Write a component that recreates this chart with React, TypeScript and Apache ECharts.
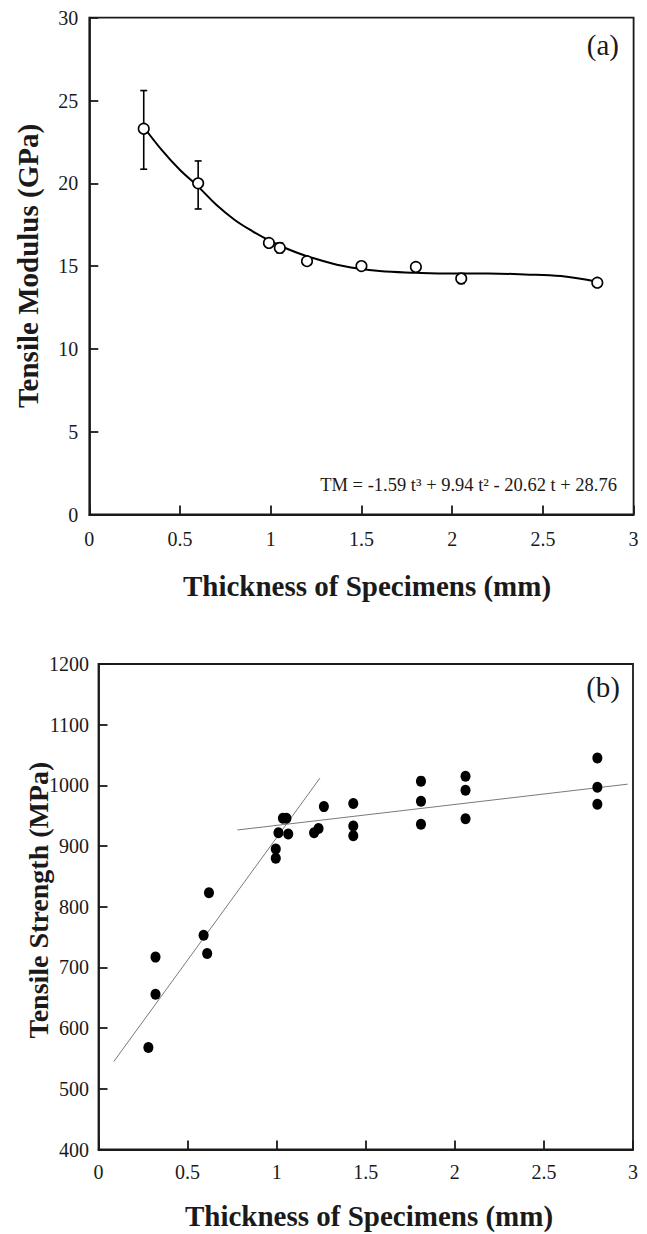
import React, { useEffect, useRef } from "react";
import * as echarts from "echarts";

const FONT = "'Liberation Serif', 'Times New Roman', Times, serif";
const INK = "#1a1a1a";

// ---------- Chart (a): Tensile Modulus ----------
const thicknessA = [0.3, 0.6, 0.99, 1.05, 1.2, 1.5, 1.8, 2.05, 2.8];
const modulusA = [23.3, 20.0, 16.4, 16.1, 15.3, 15.0, 14.95, 14.25, 14.0];
const errThicknessA = [0.3, 0.6, 1.05, 2.05];
const errLowA = [20.85, 18.45, 15.8, 13.95];
const errHighA = [25.6, 21.35, 16.4, 14.55];
const fitThicknessA = [0.3, 0.4, 0.5, 0.6, 0.7, 0.8, 0.9, 1.0, 1.1, 1.2, 1.4, 1.6, 1.8, 2.0, 2.2, 2.4, 2.6, 2.8];
const fitModulusA = [23.4, 22.0, 20.8, 19.8, 18.7, 17.8, 17.1, 16.5, 16.0, 15.6, 15.0, 14.7, 14.6, 14.55, 14.55, 14.5, 14.4, 14.05];
const equationA = "TM = -1.59 t\u00b3 + 9.94 t\u00b2 - 20.62 t + 28.76";

// ---------- Chart (b): Tensile Strength ----------
const thicknessB = [0.28, 0.32, 0.32, 0.59, 0.61, 0.62, 0.995, 0.995, 1.01, 1.035, 1.055, 1.065, 1.21, 1.235, 1.265, 1.43, 1.43, 1.43, 1.81, 1.81, 1.81, 2.06, 2.06, 2.06, 2.8, 2.8, 2.8];
const strengthB = [568, 717, 656, 753, 723, 823, 895, 880, 922, 946, 946, 920, 922, 929, 965, 970, 933, 917, 1007, 974, 936, 1015, 992, 945, 1045, 997, 969];
const steepLineT = [0.086, 1.243];
const steepLineS = [545, 1012];
const flatLineT = [0.78, 2.97];
const flatLineS = [926.5, 1002];

const xTitle = "Thickness of Specimens (mm)";

export default function App() {
  const ref = useRef<HTMLDivElement>(null);
  useEffect(() => {
    if (!ref.current) return;
    const chart = echarts.init(ref.current, undefined, { renderer: "svg" });

    const plain = (v: number) => String(v);
    const axisCommon = {
      axisLine: { show: true, lineStyle: { color: INK, width: 1.8 } },
      axisTick: { show: true, inside: true, length: 9, lineStyle: { color: INK, width: 1.8 } },
      splitLine: { show: false },
      axisLabel: { color: INK, fontFamily: FONT, fontSize: 20, formatter: plain },
    };

    const option: any = {
      animation: false,
      backgroundColor: "#ffffff",
      grid: [
        { left: 89.3, top: 17.7, width: 544.3, height: 496.8, show: true, borderColor: INK, borderWidth: 1.8 },
        { left: 98.5, top: 664, width: 534.5, height: 485.5, show: true, borderColor: INK, borderWidth: 1.8 },
      ],
      xAxis: [
        { ...axisCommon, type: "value", gridIndex: 0, min: 0, max: 3, interval: 0.5,
          axisLabel: { ...axisCommon.axisLabel, margin: 14 } },
        { ...axisCommon, type: "value", gridIndex: 1, min: 0, max: 3, interval: 0.5,
          axisLabel: { ...axisCommon.axisLabel, margin: 12 } },
      ],
      yAxis: [
        { ...axisCommon, type: "value", gridIndex: 0, min: 0, max: 30, interval: 5,
          axisLabel: { ...axisCommon.axisLabel, margin: 11 } },
        { ...axisCommon, type: "value", gridIndex: 1, min: 400, max: 1200, interval: 100,
          axisLabel: { ...axisCommon.axisLabel, margin: 9.5 } },
      ],
      series: [
        {
          type: "line",
          xAxisIndex: 0, yAxisIndex: 0,
          data: fitThicknessA.map((t, i) => [t, fitModulusA[i]]),
          smooth: 0.4,
          showSymbol: false,
          lineStyle: { color: "#000", width: 2 },
          z: 2,
        },
        {
          type: "custom",
          xAxisIndex: 0, yAxisIndex: 0,
          data: errThicknessA.map((t, i) => [t, errLowA[i], errHighA[i]]),
          renderItem: (params: any, api: any) => {
            const lo = api.coord([api.value(0), api.value(1)]);
            const hi = api.coord([api.value(0), api.value(2)]);
            const c = 3.5;
            const st = { stroke: "#000", lineWidth: 1.6 };
            return {
              type: "group",
              children: [
                { type: "line", shape: { x1: lo[0], y1: lo[1], x2: hi[0], y2: hi[1] }, style: st },
                { type: "line", shape: { x1: lo[0] - c, y1: lo[1], x2: lo[0] + c, y2: lo[1] }, style: st },
                { type: "line", shape: { x1: hi[0] - c, y1: hi[1], x2: hi[0] + c, y2: hi[1] }, style: st },
              ],
            };
          },
          z: 3,
        },
        {
          type: "scatter",
          xAxisIndex: 0, yAxisIndex: 0,
          data: thicknessA.map((t, i) => [t, modulusA[i]]),
          symbol: "circle",
          symbolSize: 10.5,
          itemStyle: { color: "#fff", borderColor: "#000", borderWidth: 1.6, opacity: 1 },
          z: 4,
        },
        {
          type: "line",
          xAxisIndex: 1, yAxisIndex: 1,
          data: steepLineT.map((t, i) => [t, steepLineS[i]]),
          showSymbol: false,
          lineStyle: { color: "#7a7a7a", width: 1 },
          z: 2,
        },
        {
          type: "line",
          xAxisIndex: 1, yAxisIndex: 1,
          data: flatLineT.map((t, i) => [t, flatLineS[i]]),
          showSymbol: false,
          lineStyle: { color: "#7a7a7a", width: 1 },
          z: 2,
        },
        {
          type: "scatter",
          xAxisIndex: 1, yAxisIndex: 1,
          data: thicknessB.map((t, i) => [t, strengthB[i]]),
          symbol: "circle",
          symbolSize: [10, 11],
          itemStyle: { color: "#000", opacity: 1 },
          z: 4,
        },
      ],
      graphic: [
        { type: "text", x: 619, y: 45, style: { text: "(a)", fontFamily: FONT, fontSize: 29, fill: INK, textAlign: "right", textVerticalAlign: "middle" } },
        { type: "text", x: 620, y: 687, style: { text: "(b)", fontFamily: FONT, fontSize: 29, fill: INK, textAlign: "right", textVerticalAlign: "middle" } },
        { type: "text", x: 617, y: 485, style: { text: equationA, fontFamily: FONT, fontSize: 18.5, fill: INK, textAlign: "right", textVerticalAlign: "middle" } },
        { type: "text", x: 367, y: 586, style: { text: xTitle, fontFamily: FONT, fontSize: 29, fontWeight: "bold", fill: INK, textAlign: "center", textVerticalAlign: "middle" } },
        { type: "text", x: 369, y: 1216, style: { text: xTitle, fontFamily: FONT, fontSize: 29, fontWeight: "bold", fill: INK, textAlign: "center", textVerticalAlign: "middle" } },
        { type: "text", x: 27.5, y: 266, rotation: Math.PI / 2, style: { text: "Tensile Modulus (GPa)", fontFamily: FONT, fontSize: 29, fontWeight: "bold", fill: INK, textAlign: "center", textVerticalAlign: "middle" } },
        { type: "text", x: 38, y: 900, rotation: Math.PI / 2, style: { text: "Tensile Strength (MPa)", fontFamily: FONT, fontSize: 28, fontWeight: "bold", fill: INK, textAlign: "center", textVerticalAlign: "middle" } },
      ],
    };

    chart.setOption(option);
    return () => chart.dispose();
  }, []);

  return (
    <div
      ref={ref}
      style={{ position: "absolute", left: 0, top: 0, width: 647, height: 1234, background: "#fff" }}
    />
  );
}
